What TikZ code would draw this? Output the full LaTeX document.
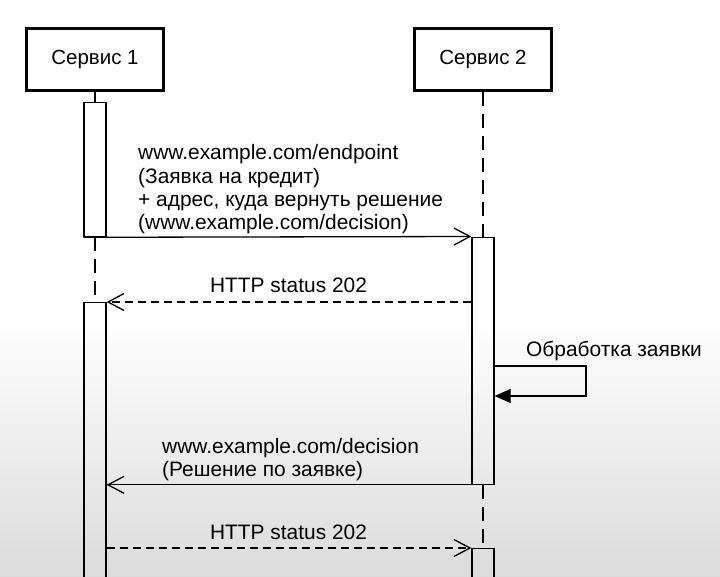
\documentclass[tikz,border=0pt]{standalone}
\usepackage{fontspec}
\setmainfont{Liberation Sans}
\usetikzlibrary{arrows.meta}
\begin{document}
\begin{tikzpicture}[x=1pt,y=-1pt,
  svc/.style={draw, line width=3pt, minimum width=137pt, minimum height=62pt, inner sep=0pt, font=\fontsize{20.5}{23}\selectfont},
  actbar/.style={draw, line width=1.3pt, minimum width=22pt, inner sep=0pt, anchor=north},
  lifeline/.style={line width=1.3pt, dash pattern=on 14pt off 8pt},
  msg/.style={line width=1.3pt, -{Straight Barb[length=16pt,width=17pt]}},
  reply/.style={msg, dash pattern=on 8pt off 5pt},
  label/.style={inner sep=0pt, align=left, anchor=west, font=\fontsize{20.9}{23.3}\selectfont}]
\useasboundingbox (0,0) rectangle (720,576);
\clip (0,0) rectangle (720,576);
\fill[white] (0,0) rectangle (720,322);
\shade[top color=white, bottom color=black!14] (0,321) rectangle (720,576);
% participants
\node[svc] (svc1) at (95,59.5) {Сервис 1};
\node[svc] (svc2) at (483,59.5) {Сервис 2};
% activation bars
\node[actbar, minimum height=134pt] (act1) at (95,102) {};
\node[actbar, minimum height=290pt] (act1b) at (95,302) {};
\node[actbar, minimum height=247pt] (act2) at (483,236.5) {};
\node[actbar, minimum height=60pt] (act2b) at (483,548) {};
% lifelines
\draw[line width=1.3pt] (svc1.south) -- (act1.north);
\draw[lifeline] (act1.south) -- (act1b.north);
\draw[lifeline] (svc2.south) -- (act2.north);
\draw[lifeline] (act2.south) -- (act2b.north);
% messages
\draw[msg] (act1.south west) -- (act2.north west);
\node[label] (req) at (138,189.5) {www.example.com/endpoint\\(Заявка на кредит)\\+ адрес, куда вернуть решение\\(www.example.com/decision)};
\draw[reply] (act2.west |- act1b.north) -- (act1b.north east);
\node[label, anchor=center] (ack1) at (288.5,285.5) {HTTP status 202};
\coordinate (selfout) at (act2.east |- 0,366);
\coordinate (selfturn1) at (586,366);
\coordinate (selfturn2) at (586,396);
\coordinate (selfin) at (act2.east |- 0,396);
\draw[line width=1.3pt, -{Triangle[length=16pt,width=14pt]}] (selfout) -- (selfturn1) -- (selfturn2) -- (selfin);
\node[label] (proc) at (526,351) {Обработка заявки};
\draw[msg] (act2.south west) -- (act1b.east |- act2.south);
\node[label] (cb) at (162,459.5) {www.example.com/decision\\(Решение по заявке)};
\draw[reply] (act1b.east |- act2b.north) -- (act2b.north west);
\node[label, anchor=center] (ack2) at (288.5,532.5) {HTTP status 202};
\end{tikzpicture}
\end{document}
